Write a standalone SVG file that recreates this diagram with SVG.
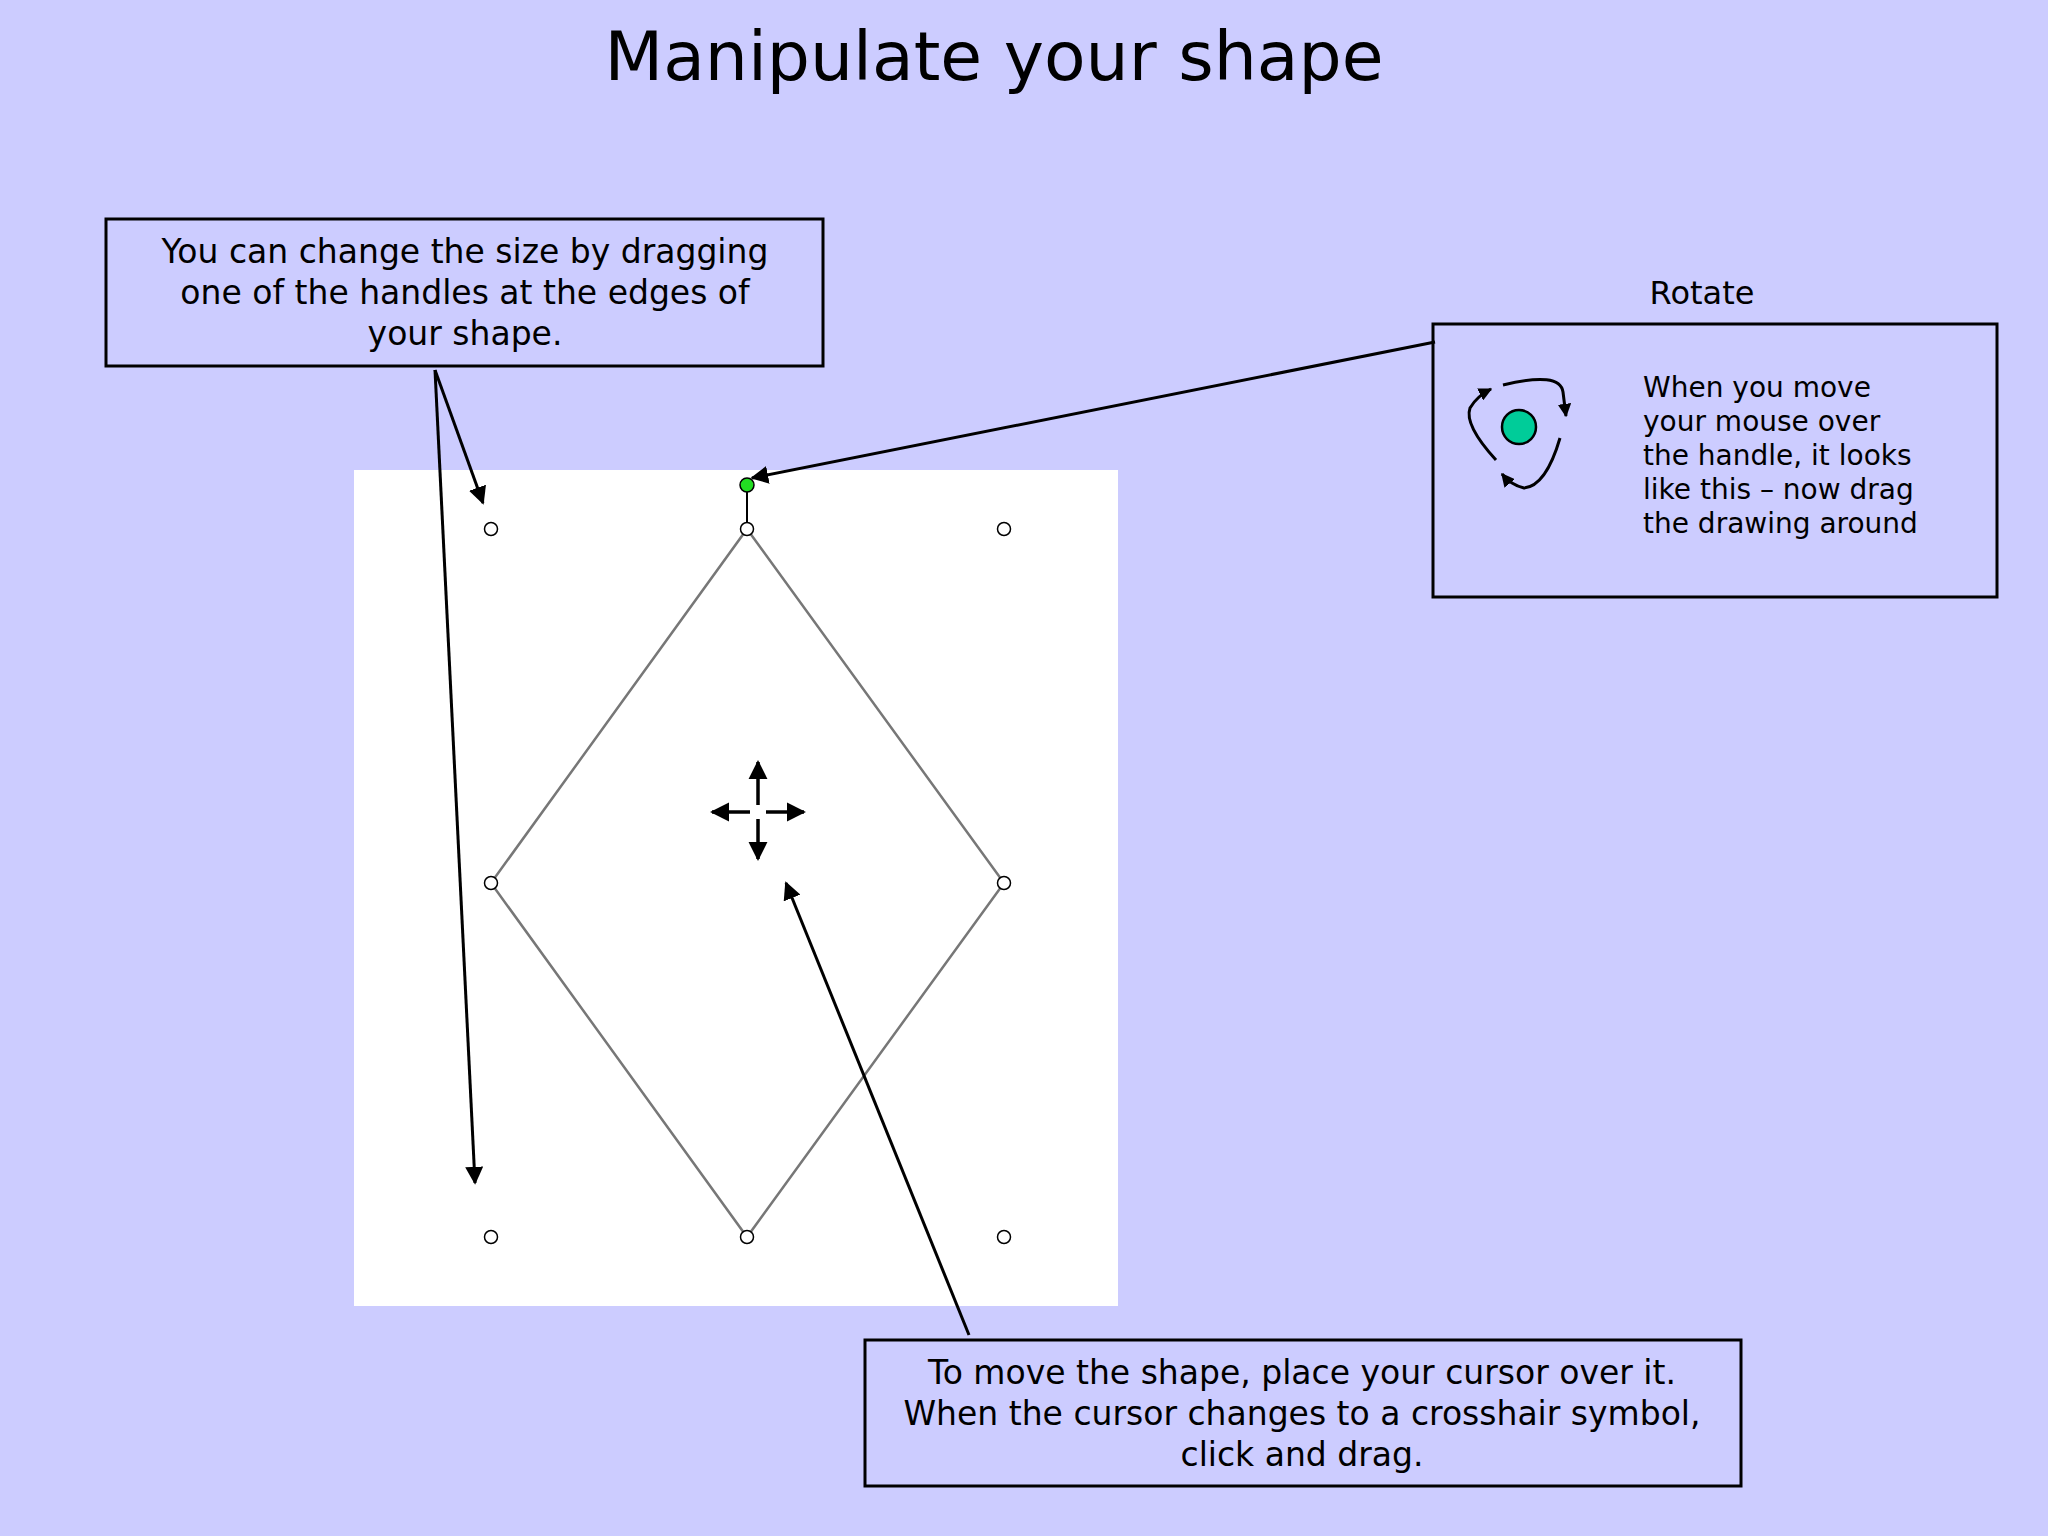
<svg xmlns="http://www.w3.org/2000/svg" width="2048" height="1536" viewBox="0 0 2048 1536">
<defs>
<marker id="ah" viewBox="0 0 10 10" refX="9" refY="5" markerWidth="6" markerHeight="6" markerUnits="strokeWidth" orient="auto"><path d="M0,0 L10,5 L0,10 z" fill="#000"/></marker>
<marker id="sa" viewBox="0 0 10 10" refX="9" refY="5" markerWidth="4.5" markerHeight="4.5" markerUnits="strokeWidth" orient="auto"><path d="M0,0 L10,5 L0,10 z" fill="#000"/></marker>
<marker id="xa" viewBox="0 0 10 10" refX="9" refY="5" markerWidth="5.5" markerHeight="6" markerUnits="strokeWidth" orient="auto"><path d="M0,0 L10,5 L0,10 z" fill="#000"/></marker>
<style>
text{font-family:"DejaVu Sans",Verdana,sans-serif;fill:#000}
.box{fill:none;stroke:#000;stroke-width:3}
.h{fill:#fff;stroke:#000;stroke-width:1.5}
.c{stroke:#000;stroke-width:3;fill:none;marker-end:url(#ah)}
.t{font-size:33px;text-anchor:middle}
.r{font-size:28px}
</style>
</defs>
<rect width="2048" height="1536" fill="#CCCCFF"/>
<text x="994" y="80" font-size="68" text-anchor="middle">Manipulate your shape</text>
<g id="canvas">
<rect x="354" y="470" width="764" height="836" fill="#fff"/>
<polygon points="747,529 1004,883 747,1237 491,883" fill="none" stroke="#777" stroke-width="2.5"/>
<line x1="747" y1="485" x2="747" y2="529" stroke="#000" stroke-width="2"/>
<circle cx="747" cy="485" r="7" fill="#22dd22" stroke="#000" stroke-width="1.5"/>
<circle class="h" cx="491" cy="529" r="6.5"/><circle class="h" cx="747" cy="529" r="6.5"/><circle class="h" cx="1004" cy="529" r="6.5"/>
<circle class="h" cx="491" cy="883" r="6.5"/><circle class="h" cx="1004" cy="883" r="6.5"/>
<circle class="h" cx="491" cy="1237" r="6.5"/><circle class="h" cx="747" cy="1237" r="6.5"/><circle class="h" cx="1004" cy="1237" r="6.5"/>
</g>
<g id="crosshair" stroke="#000" stroke-width="3.5" fill="none">
<line x1="758" y1="805" x2="758" y2="762" marker-end="url(#xa)"/>
<line x1="758" y1="819" x2="758" y2="859" marker-end="url(#xa)"/>
<line x1="750" y1="812" x2="712" y2="812" marker-end="url(#xa)"/>
<line x1="766" y1="812" x2="804" y2="812" marker-end="url(#xa)"/>
</g>
<g id="size-note">
<rect class="box" x="106" y="219" width="717" height="147"/>
<text class="t" x="465" y="263">You can change the size by dragging</text>
<text class="t" x="465" y="304">one of the handles at the edges of</text>
<text class="t" x="465" y="345">your shape.</text>
</g>
<g id="rotate-note">
<text x="1702" y="304" font-size="32" text-anchor="middle">Rotate</text>
<rect class="box" x="1433" y="324" width="564" height="273"/>
<circle cx="1519" cy="427" r="17" fill="#00cc99" stroke="#000" stroke-width="2.5"/>
<g stroke="#000" stroke-width="3" fill="none">
<path d="M1503,385 Q1560,371 1563,392 L1566,416" marker-end="url(#sa)"/>
<path d="M1560,438 Q1546,486 1524,488 Q1511,485 1502,474" marker-end="url(#sa)"/>
<path d="M1496,460 Q1464,425 1470,408 Q1477,396 1491,389" marker-end="url(#sa)"/>
</g>
<text class="r" x="1643" y="397">When you move</text>
<text class="r" x="1643" y="431">your mouse over</text>
<text class="r" x="1643" y="465">the handle, it looks</text>
<text class="r" x="1643" y="499">like this – now drag</text>
<text class="r" x="1643" y="533">the drawing around</text>
</g>
<g id="move-note">
<rect class="box" x="865" y="1340" width="876" height="146"/>
<text class="t" x="1302" y="1384">To move the shape, place your cursor over it.</text>
<text class="t" x="1302" y="1425">When the cursor changes to a crosshair symbol,</text>
<text class="t" x="1302" y="1466">click and drag.</text>
</g>
<g id="connectors">
<line class="c" x1="435" y1="370" x2="483" y2="503"/>
<line class="c" x1="435" y1="370" x2="475" y2="1183"/>
<line class="c" x1="1435" y1="342" x2="752" y2="478"/>
<line class="c" x1="969" y1="1335" x2="786" y2="883"/>
</g>
</svg>
